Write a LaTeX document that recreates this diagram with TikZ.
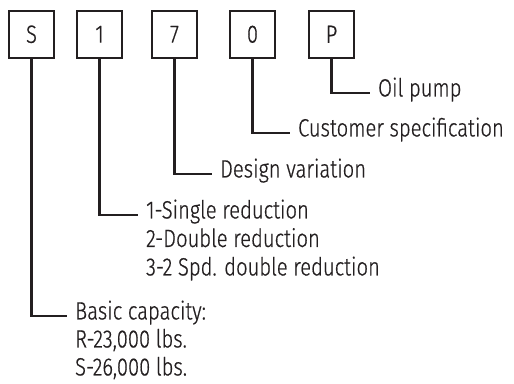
\documentclass[tikz,border=0pt]{standalone}
\usepackage{fontspec}
\setmainfont{Fira Sans}[UprightFont=* Light, FakeStretch=0.81, FakeBold=0.6]
\usepackage{tikz}
\definecolor{ink}{RGB}{35,31,32}

\begin{document}
\begin{tikzpicture}
      [
        x=1pt, y=-1pt,
        line width=2.2pt, draw=ink,
        digit/.style={draw=ink, text=ink, minimum width=45.5pt, minimum height=47pt,
          inner sep=0pt, font=\fontsize{25}{30}\selectfont},
        lbl/.style={anchor=west, text=ink, inner xsep=7pt, inner ysep=0pt,
          text height=0.69em, text depth=0pt, font=\fontsize{25}{30}\selectfont}
      ]
      \useasboundingbox (0,0) rectangle (514,383);
      % code boxes
      \foreach \name/\x/\t in {s/31.5/S, one/99.5/1, seven/174.5/7, zero/252.5/0, p/331.5/P} {
          \node [digit] (\name) at (\x,34.3) {\t};
      }
      % labels
      \node [lbl] (pump) at (370,93) {Oil pump};
      \node [lbl] (cust) at (290,133) {Customer specification};
      \node [lbl] (design) at (212,174) {Design variation};
      \node [lbl] (red1) at (138,215) {1-Single reduction};
      \node [lbl] (red2) at (138,243.5) {2-Double reduction};
      \node [lbl] (red3) at (138,272) {3-2 Spd. double reduction};
      \node [lbl] (cap) at (67,316) {Basic capacity:};
      \node [lbl] (capr) at (67,344) {R-23,000 lbs.};
      \node [lbl] (caps) at (67,372) {S-26,000 lbs.};
      % leader lines
      \draw (p.south) |- (pump.west);
      \draw (zero.south) |- (cust.west);
      \draw (seven.south) |- (design.west);
      \draw (one.south) |- (red1.west);
      \draw (s.south) |- (cap.west);
    \end{tikzpicture}
\end{document}
